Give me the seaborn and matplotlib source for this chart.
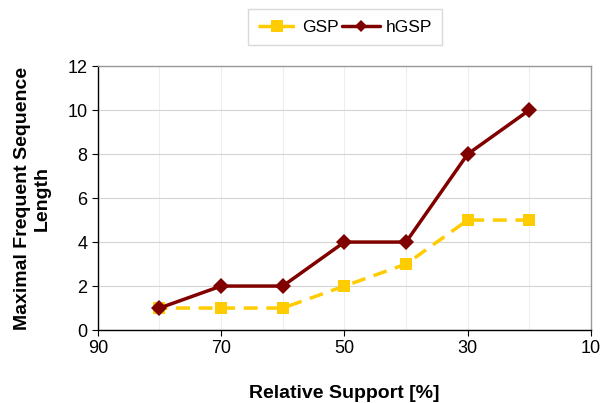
import pandas as pd
import numpy as np
import matplotlib.pyplot as plt
import seaborn as sns
from matplotlib.lines import Line2D

# Chart data
support = [80, 70, 60, 50, 40, 30, 20]
gsp = [1, 1, 1, 2, 3, 5, 5]
hgsp = [1, 2, 2, 4, 4, 8, 10]

df = pd.DataFrame({
    'support': support * 2,
    'length': gsp + hgsp,
    'algo': ['GSP'] * len(gsp) + ['hGSP'] * len(hgsp),
})

sns.set_style('white')
plt.rcParams['font.family'] = ['Liberation Sans', 'DejaVu Sans']
plt.rcParams['text.color'] = 'black'
plt.rcParams['axes.labelcolor'] = 'black'
plt.rcParams['xtick.color'] = 'black'
plt.rcParams['ytick.color'] = 'black'

fig = plt.figure(figsize=(6, 4.03), dpi=100)
ax = fig.add_axes([0.163, 0.181, 0.822, 0.655])

palette = {'GSP': '#FFCC00', 'hGSP': '#800000'}
sns.lineplot(data=df, x='support', y='length', hue='algo', style='algo',
             palette=palette, markers={'GSP': 's', 'hGSP': 'D'},
             dashes={'GSP': (4, 2.5), 'hGSP': ''}, linewidth=2.5,
             markersize=8, markeredgewidth=0, ax=ax, legend=False)

ax.set_xlim(90, 10)
ax.set_ylim(0, 12)
ax.set_xticks([90, 70, 50, 30, 10])
ax.set_xticks(np.arange(10, 91, 10), minor=True)
ax.set_yticks(np.arange(0, 13, 2))
ax.grid(True, which='both', axis='x', color='#eeeeee', linewidth=0.8)
ax.grid(True, which='major', axis='y', color='#d4d4d4', linewidth=0.8)
ax.set_axisbelow(True)

for side in ['left', 'bottom']:
    ax.spines[side].set_color('black')
    ax.spines[side].set_linewidth(1)
for side in ['top', 'right']:
    ax.spines[side].set_color('#999999')
    ax.spines[side].set_linewidth(1)

ax.tick_params(axis='both', labelsize=13, length=4, color='black', direction='out',
               bottom=True, left=True)
ax.tick_params(axis='x', which='minor', bottom=False)

ax.set_xlabel('Relative Support [%]', fontsize=14, fontweight='bold', labelpad=20)
ax.set_ylabel('Maximal Frequent Sequence\nLength', fontsize=14, fontweight='bold',
              labelpad=12, multialignment='center')

handles = [
    Line2D([], [], color='#FFCC00', lw=2.5, ls=(0, (4, 2.5)), marker='s', markersize=8, markeredgewidth=0),
    Line2D([], [], color='#800000', lw=2.5, marker='D', markersize=6, markeredgewidth=0),
]
leg = fig.legend(handles, ['GSP', 'hGSP'], loc='center', bbox_to_anchor=(0.575, 0.932),
                 ncol=2, fontsize=12.5, frameon=True, fancybox=False, handlelength=2.2,
                 columnspacing=0.2, handletextpad=0.3, borderpad=0.6, borderaxespad=0)
leg.get_frame().set_edgecolor('#d0d0d0')
leg.get_frame().set_linewidth(1)

fig.savefig('out.png', dpi=100)
